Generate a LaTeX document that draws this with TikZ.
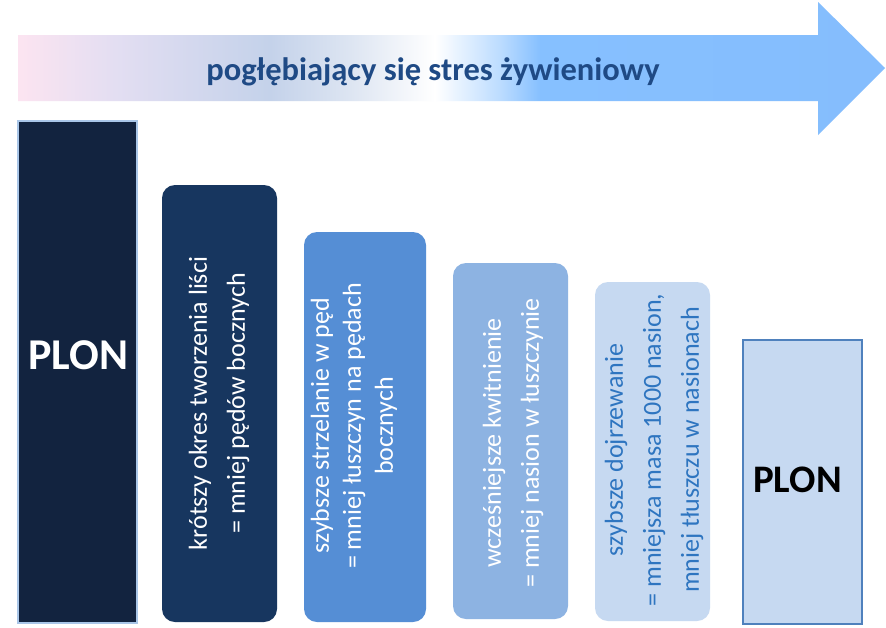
\documentclass[tikz,border=0pt]{standalone}
\usepackage{fontspec}
\setmainfont{Carlito}
\definecolor{gpink}{HTML}{FCE4F1}
\definecolor{glav}{HTML}{E3DEF2}
\definecolor{gsteel}{HTML}{C4D2EA}
\definecolor{gpale}{HTML}{DDE5F2}
\definecolor{glight}{HTML}{BCDCFF}
\definecolor{gblue}{HTML}{86C0FF}
\definecolor{gblueend}{HTML}{85BDFD}
\definecolor{titleblue}{HTML}{1F4A85}
\definecolor{navy}{HTML}{12233F}
\definecolor{navyedge}{HTML}{A9C6E8}
\definecolor{boxtwo}{HTML}{17365F}
\definecolor{boxthree}{HTML}{558ED5}
\definecolor{boxfour}{HTML}{8DB3E2}
\definecolor{boxfive}{HTML}{C6D9F1}
\definecolor{textfive}{HTML}{2E75C0}
\definecolor{edgesix}{HTML}{4F81BD}
\pgfdeclarehorizontalshading{stress}{100bp}{color(0bp)=(gpink); color(25bp)=(gpink); color(30.59bp)=(glav); color(39.53bp)=(gsteel); color(44.15bp)=(gpale); color(49.05bp)=(white); color(52.8bp)=(glight); color(55.11bp)=(gblue); color(75bp)=(gblueend); color(100bp)=(gblueend)}
\tikzset{
  roundbox/.style={rounded corners=13pt, inner sep=0pt},
  squarebox/.style={inner sep=0pt},
  boxtext/.style={rotate=90, align=center, inner sep=0pt, font=\fontsize{26}{38}\selectfont, text=white},
  plontext/.style={font=\bfseries\fontsize{44}{48}\selectfont, inner sep=0pt}
}
\begin{document}
\begin{tikzpicture}[x=1pt,y=-1pt]
\useasboundingbox (0,0) rectangle (886,627);
\fill[white] (0,0) rectangle (886,627);
% big gradient arrow
\shade[shading=stress] (18,35) -- (818,35) -- (818,2) -- (885,68) -- (818,135) -- (818,101) -- (18,101) -- cycle;
\node[font=\bfseries\fontsize{32.5}{34}\selectfont, text=titleblue, inner sep=0pt] (title) at (433,72) {pogłębiający się stres żywieniowy};
% box 1
\node[squarebox, fill=navy, draw=navyedge, line width=1.5pt, minimum width=119pt, minimum height=502pt] (b1) at (77.5,372) {};
\node[plontext, text=white] (plon1) at (78,355) {PLON};
% box 2
\node[roundbox, fill=boxtwo, minimum width=115pt, minimum height=437pt] (b2) at (219.5,403.5) {};
\node[boxtext] (t2) at (219,403.5) {krótszy okres tworzenia liści\\= mniej pędów bocznych};
% box 3
\node[roundbox, fill=boxthree, minimum width=122pt, minimum height=390pt] (b3) at (365,427) {};
\node[boxtext, font=\fontsize{26}{32}\selectfont] (t3) at (354,426) {szybsze strzelanie w pęd\\= mniej łuszczyn na pędach\\bocznych};
% box 4
\node[roundbox, fill=boxfour, minimum width=115pt, minimum height=356pt] (b4) at (510.5,441) {};
\node[boxtext] (t4) at (513,443) {wcześniejsze kwitnienie\\= mniej nasion w łuszczynie};
% box 5
\node[roundbox, fill=boxfive, minimum width=115pt, minimum height=339pt] (b5) at (652.5,451.5) {};
\node[boxtext, text=textfive] (t5) at (654,450) {szybsze dojrzewanie\\= mniejsza masa 1000 nasion,\\mniej tłuszczu w nasionach};
% box 6
\node[squarebox, fill=boxfive, draw=edgesix, line width=2pt, minimum width=119pt, minimum height=284pt] (b6) at (802.5,482) {};
\node[plontext, font=\bfseries\fontsize{39}{42}\selectfont, text=black] (plon6) at (797.5,480) {PLON};
\end{tikzpicture}
\end{document}
